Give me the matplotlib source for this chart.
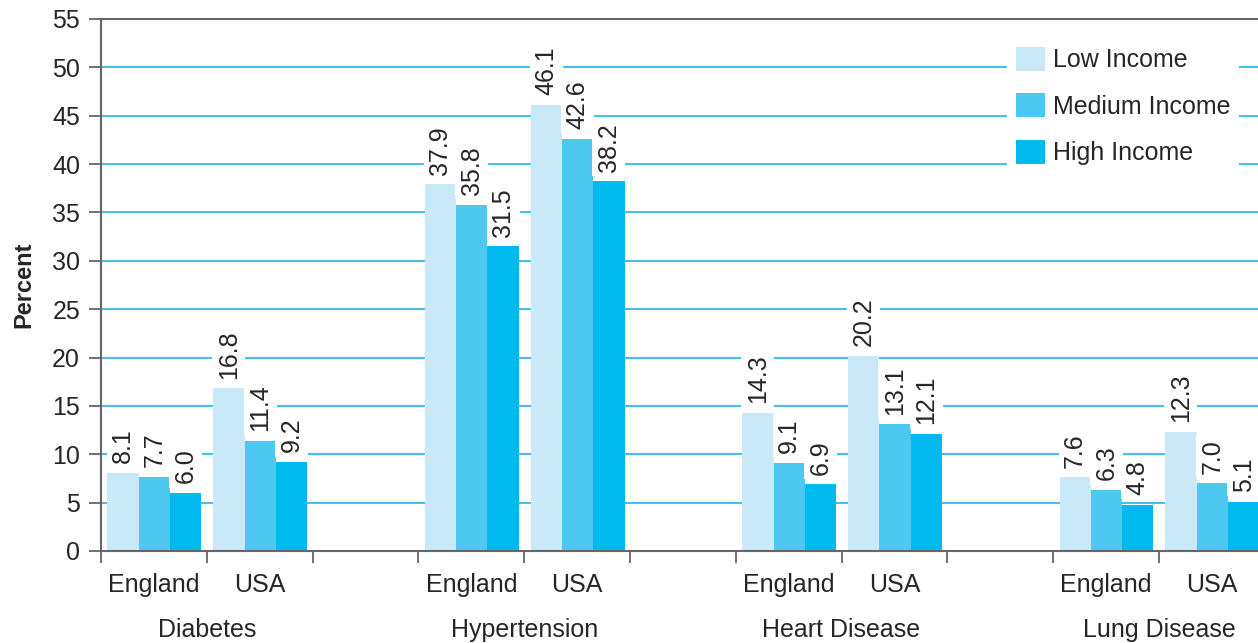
import matplotlib
matplotlib.use("Agg")
import matplotlib.pyplot as plt
import numpy as np

plt.rcParams['font.family'] = ['Liberation Sans', 'DejaVu Sans']

diseases = ["Diabetes", "Hypertension", "Heart Disease", "Lung Disease"]
countries = ["England", "USA"]
series_names = ["Low Income", "Medium Income", "High Income"]
low_income = [8.1, 16.8, 37.9, 46.1, 14.3, 20.2, 7.6, 12.3]
medium_income = [7.7, 11.4, 35.8, 42.6, 9.1, 13.1, 6.3, 7.0]
high_income = [6.0, 9.2, 31.5, 38.2, 6.9, 12.1, 4.8, 5.1]
y_ticks = [0, 5, 10, 15, 20, 25, 30, 35, 40, 45, 50, 55]

colors = ["#C9E9F9", "#4DC8F1", "#00B9EE"]
grid_color = "#3DBFEE"
text_color = "#262626"
axis_color = "#666666"

fig = plt.figure(figsize=(12.58, 6.43), dpi=100)
ax = fig.add_axes([0.0803, 0.1431, 0.925, 0.8274])

# slot positions: England, USA, gap per disease
slots = []
for d in range(len(diseases)):
    slots += [3 * d, 3 * d + 1]
slots = np.array(slots, dtype=float)

bw = 0.296
offsets = [-bw + 0.005, 0.005, bw + 0.005]
all_series = [low_income, medium_income, high_income]
for s, (vals, name, col) in enumerate(zip(all_series, series_names, colors)):
    xs = slots + offsets[s]
    ax.bar(xs, vals, width=bw, color=col, label=name, zorder=2, linewidth=0)
    for x, v in zip(xs, vals):
        ax.annotate(f"{v:.1f}", xy=(x, v), xytext=(0, 7), textcoords='offset points',
                    rotation=90, ha='center', va='bottom', fontsize=18, color=text_color,
                    zorder=4,
                    bbox=dict(boxstyle='square,pad=0.18', facecolor='white', edgecolor='none'))

ax.set_xlim(-0.5, 10.5)
ax.set_ylim(0, 55)
ax.set_yticks(y_ticks)
ax.set_yticklabels([str(t) for t in y_ticks], fontsize=18, color=text_color)
ax.yaxis.grid(True, color=grid_color, linewidth=1.4, zorder=0)
ax.set_axisbelow(True)

ax.set_xticks(np.arange(-0.5, 11, 1.0))
ax.set_xticklabels([])
ax.tick_params(axis='x', length=8.6, width=1.3, color=axis_color, direction='out')
ax.tick_params(axis='y', length=8.6, width=1.3, color=axis_color, direction='out', pad=6.5)

for sp in ['left', 'bottom', 'top']:
    ax.spines[sp].set_color(axis_color)
    ax.spines[sp].set_linewidth(1.5)
ax.spines['right'].set_visible(False)

for i, x in enumerate(slots):
    ax.annotate(countries[i % 2], xy=(x, 0), xycoords=('data', 'axes fraction'),
                xytext=(0, -24.5), textcoords='offset points', ha='center', va='center',
                fontsize=18, color=text_color, annotation_clip=False)
for d, name in enumerate(diseases):
    ax.annotate(name, xy=(3 * d + 0.5, 0), xycoords=('data', 'axes fraction'),
                xytext=(0, -57), textcoords='offset points', ha='center', va='center',
                fontsize=18, color=text_color, annotation_clip=False)

ax.set_ylabel("Percent", fontsize=17, fontweight='bold', color=text_color, labelpad=12)

leg = ax.legend(loc='upper left', bbox_to_anchor=(1007 / 1258, 1 - 38 / 643),
                bbox_transform=fig.transFigure, frameon=True, fancybox=False,
                fontsize=18, handlelength=1.16, handleheight=1.12, handletextpad=0.32,
                labelspacing=0.83, borderpad=0.35, borderaxespad=0)
leg.get_frame().set_facecolor('white')
leg.get_frame().set_edgecolor('none')
leg.get_frame().set_alpha(1)
for t in leg.get_texts():
    t.set_color(text_color)

fig.savefig("out.png", dpi=100)
